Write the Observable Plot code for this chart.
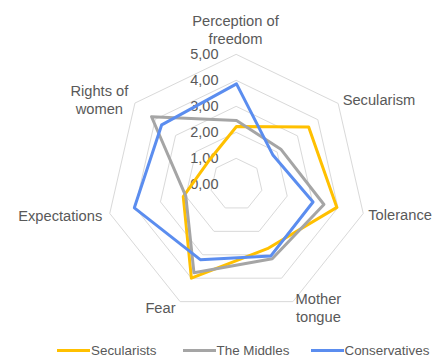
<!DOCTYPE html>
<html>
<head>
<meta charset="utf-8">
<script src="https://cdn.jsdelivr.net/npm/d3@7"></script>
<script src="https://cdn.jsdelivr.net/npm/@observablehq/plot@0.6"></script>
<style>
  html, body { margin: 0; padding: 0; background: #fff; }
  body { width: 433px; height: 358px; overflow: hidden; font-family: "Liberation Sans", Arial, sans-serif; }
  #legend { position: relative; height: 16px; font-size: 13.4px; color: #595959; }
  #legend .item { position: absolute; top: 0; display: flex; align-items: center; height: 16px; white-space: nowrap; }
  #legend .sw { width: 33px; height: 3px; margin-right: 1px; }
</style>
</head>
<body>
<div id="chart"></div>
<div id="legend"></div>
<script>
const categories = ["Perception of\nfreedom", "Secularism", "Tolerance", "Mother\ntongue", "Fear", "Expectations", "Rights of\nwomen"];
const seriesNames = ["Secularists", "The Middles", "Conservatives"];
const secularists   = [2.23, 3.55, 3.96, 2.74, 4.00, 2.10, 1.40];
const middles       = [2.46, 2.18, 3.45, 3.17, 3.77, 2.00, 4.18];
const conservatives = [3.87, 1.80, 3.02, 3.05, 3.21, 4.03, 3.68];
const tickValues = [0, 1, 2, 3, 4, 5];
const tickLabels = ["0,00", "1,00", "2,00", "3,00", "4,00", "5,00"];
const colors = ["#FFC000", "#A5A5A5", "#5B8DEF"];

const W = 433, H = 342, CX = 236, CY = 184, UNIT = 26;
const n = categories.length;
const ang = i => i * 2 * Math.PI / n;
const px = (r, i) => r * Math.sin(ang(i));
const py = (r, i) => r * Math.cos(ang(i));

const seriesValues = [secularists, middles, conservatives];
const rows = seriesValues.flatMap((vals, s) => vals.map((v, i) => ({series: seriesNames[s], i, v})));
const grid = tickValues.filter(t => t > 0).flatMap(t => categories.map((c, i) => ({t, i})));
const ticks = tickValues.map((t, k) => ({t, label: tickLabels[k]}));

// label layout (style, not data)
const labelStyle = [
  {anchor: "middle", dx: -1, dy: -25},
  {anchor: "start", dx: 4.5, dy: -4},
  {anchor: "start", dx: 5, dy: 1},
  {anchor: "middle", dx: 25.5, dy: 5.5},
  {anchor: "end", dx: -4.5, dy: 6},
  {anchor: "end", dx: -7.5, dy: 2},
  {anchor: "middle", dx: -35.5, dy: -4}
];

const labelMarks = categories.map((c, i) => Plot.text([c], {
  x: () => px(5, i), y: () => py(5, i), text: d => d,
  textAnchor: labelStyle[i].anchor, dx: labelStyle[i].dx, dy: labelStyle[i].dy,
  fill: "#595959", fontSize: 14.7, lineHeight: 1.22
}));

const plot = Plot.plot({
  width: W, height: H,
  marginTop: 0, marginBottom: 0, marginLeft: 0, marginRight: 0,
  style: {fontFamily: "'Liberation Sans', Arial, sans-serif", overflow: "visible"},
  x: {domain: [-CX / UNIT, (W - CX) / UNIT], range: [0, W], axis: null},
  y: {domain: [-(H - CY) / UNIT, CY / UNIT], range: [H, 0], axis: null},
  color: {domain: seriesNames, range: colors},
  marks: [
    Plot.line(grid, {x: d => px(d.t, d.i), y: d => py(d.t, d.i), z: "t", curve: "linear-closed", stroke: "#D9D9D9", strokeWidth: 1}),
    Plot.text(ticks, {x: () => 0, y: d => d.t, text: "label", textAnchor: "end", dx: -18, fill: "#595959", fontSize: 14.5}),
    Plot.line(rows, {x: d => px(d.v, d.i), y: d => py(d.v, d.i), z: "series", stroke: "series", curve: "linear-closed", strokeWidth: 3, strokeLinejoin: "round"}),
    ...labelMarks
  ]
});
document.getElementById("chart").appendChild(plot);

const legend = document.getElementById("legend");
const lefts = [57, 182.5, 310.5];
seriesNames.forEach((s, k) => {
  const it = document.createElement("div");
  it.className = "item";
  it.style.left = lefts[k] + "px";
  it.innerHTML = `<span class="sw" style="background:${colors[k]}"></span><span>${s}</span>`;
  legend.appendChild(it);
});
</script>
</body>
</html>
